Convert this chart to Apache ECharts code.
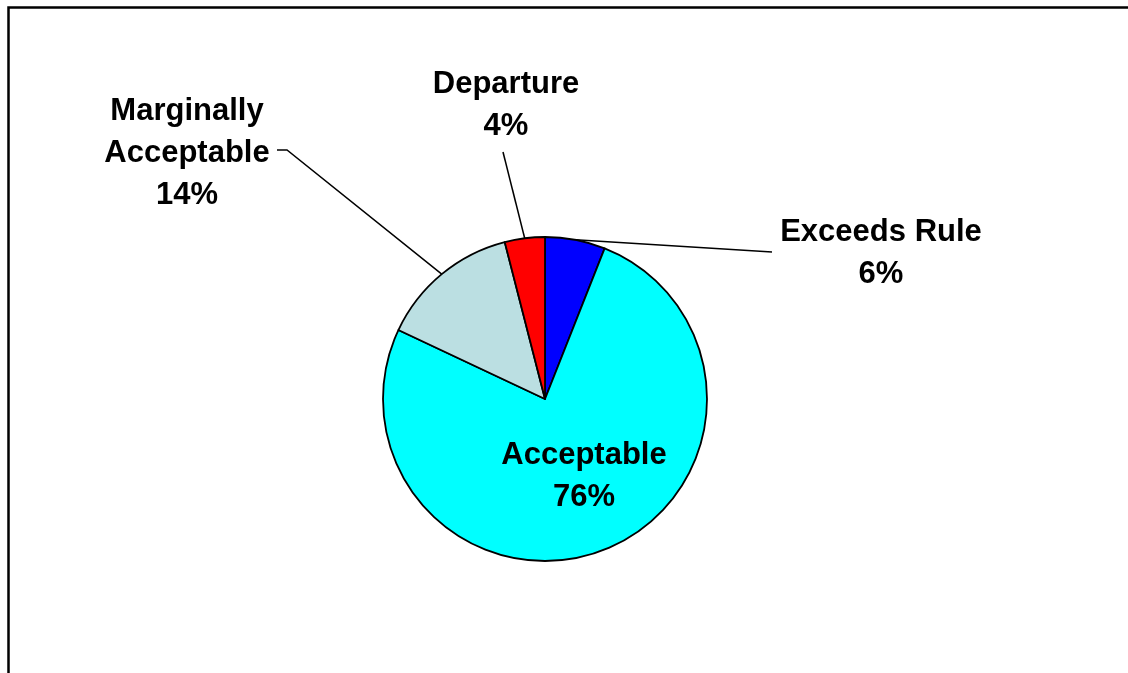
<!DOCTYPE html>
<html><head><meta charset="utf-8">
<script src="https://cdn.jsdelivr.net/npm/echarts@6/dist/echarts.min.js"></script>
<style>html,body{margin:0;padding:0;background:#fff}#c{width:1128px;height:673px}</style>
</head><body><div id="c"></div>
<script>
// ---- data ----
const categories = ['Exceeds Rule', 'Acceptable', 'Marginally Acceptable', 'Departure'];
const labelTexts = ['Exceeds Rule', 'Acceptable', 'Marginally\nAcceptable', 'Departure'];
const values = [6, 76, 14, 4];
const colors = ['#0000FF', '#00FFFF', '#BBDFE2', '#FF0000'];

// ---- layout (label centres and leader-line bends/ends) ----
const labelPos = [[881, 253], [584, 476], [187, 153], [506, 105]];
const lineEnds = [[[772, 252], [772, 252]], null, [[287, 150], [277, 150]], [[503, 152], [503, 152]]];

const chart = echarts.init(document.getElementById('c'), null, {renderer: 'canvas'});
chart.setOption({
  animation: false,
  backgroundColor: '#ffffff',
  graphic: [{
    type: 'rect', z: -1, silent: true,
    shape: {x: 8.5, y: 7.5, width: 1140, height: 690},
    style: {fill: 'none', stroke: '#000', lineWidth: 2.5}
  }],
  series: [{
    type: 'pie',
    center: [545, 399],
    radius: 162,
    startAngle: 90,
    clockwise: true,
    avoidLabelOverlap: false,
    itemStyle: {borderColor: '#000', borderWidth: 1.8},
    emphasis: {disabled: true},
    label: {
      show: true,
      position: 'outside',
      formatter: p => labelTexts[p.dataIndex] + '\n' + Math.round(p.percent) + '%',
      fontFamily: '"Liberation Sans", Arial, sans-serif',
      fontWeight: 'bold',
      fontSize: 31,
      lineHeight: 42,
      color: '#000',
      align: 'center'
    },
    labelLine: {show: true, length: 20, length2: 20, lineStyle: {color: '#000', width: 1.5}},
    labelLayout: function (p) {
      const i = p.dataIndex;
      const res = {x: labelPos[i][0], y: labelPos[i][1], align: 'center', verticalAlign: 'middle'};
      if (lineEnds[i] && p.labelLinePoints) {
        const s = p.labelLinePoints[0];
        res.labelLinePoints = [[s[0], s[1]], lineEnds[i][0], lineEnds[i][1]];
      }
      return res;
    },
    data: categories.map((c, i) => ({
      name: c,
      value: values[i],
      itemStyle: {color: colors[i]},
      labelLine: {show: i !== 1}
    }))
  }]
});
</script></body></html>
